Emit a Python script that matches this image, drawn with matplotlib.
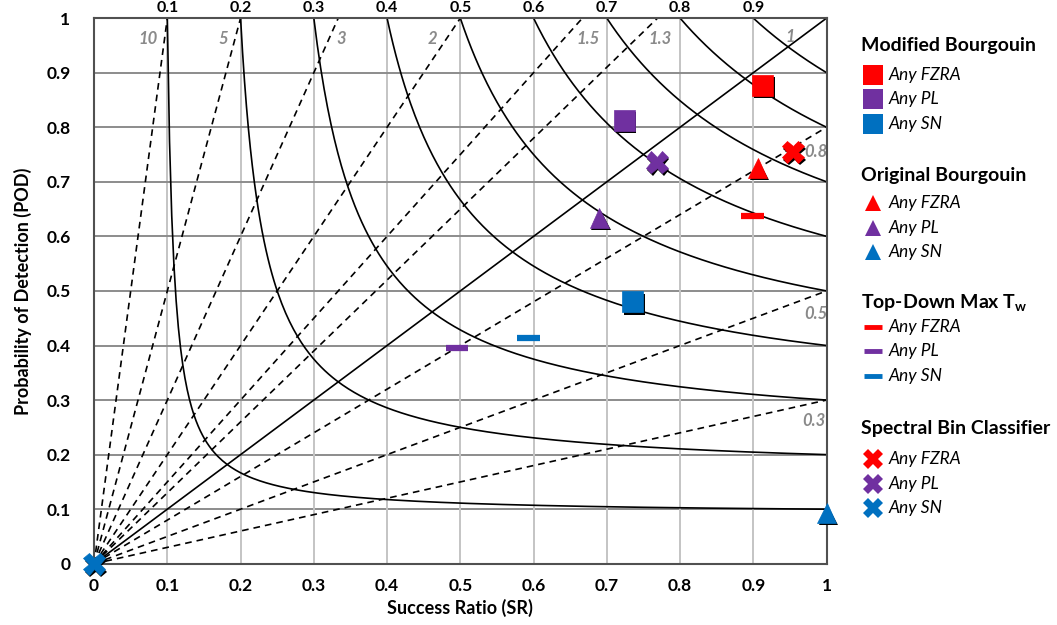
import numpy as np
import matplotlib
matplotlib.use("Agg")
import matplotlib.pyplot as plt
import matplotlib.patheffects as pe

plt.rcParams["font.family"] = ["Lato", "DejaVu Sans"]

# ── Data ──────────────────────────────────────────────────────────────────────
csi_levels = [0.1, 0.2, 0.3, 0.4, 0.5, 0.6, 0.7, 0.8, 0.9]
bias_levels = [10, 5, 3, 2, 1.5, 1.3, 1, 0.8, 0.5, 0.3]
bias_label_pos = {10: (0.074, 0.962), 5: (0.177, 0.962), 3: (0.338, 0.962),
                  2: (0.462, 0.962), 1.5: (0.674, 0.962), 1.3: (0.772, 0.962),
                  1: (0.95, 0.965), 0.8: (0.985, 0.755), 0.5: (0.985, 0.458),
                  0.3: (0.982, 0.262)}

types = ["Any FZRA", "Any PL", "Any SN"]
colors = ["#FF0000", "#7030A0", "#0070C0"]

# success ratio / POD per method, in the order of `types`
mod_sr = [0.913, 0.724, 0.735]
mod_pod = [0.877, 0.813, 0.480]
orig_sr = [0.906, 0.690, 1.000]
orig_pod = [0.725, 0.634, 0.093]
td_sr = [0.899, 0.495, 0.593]
td_pod = [0.637, 0.396, 0.414]
sbc_sr = [0.954, 0.768, 0.000]
sbc_pod = [0.755, 0.736, 0.000]

methods = [
    ("Modified Bourgouin", mod_sr, mod_pod, "s", 15),
    ("Original Bourgouin", orig_sr, orig_pod, "^", 14),
    ("Top-Down Max T$_\\mathregular{w}$", td_sr, td_pod, "_", 16),
    ("Spectral Bin Classifier", sbc_sr, sbc_pod, "X", 16),
]

# ── Figure ────────────────────────────────────────────────────────────────────
fig = plt.figure(figsize=(10.57, 6.25), dpi=100)
ax = fig.add_axes([0.089, 0.098, 0.693, 0.873])
ax.set_xlim(0, 1)
ax.set_ylim(0, 1)

ticks = np.round(np.arange(0, 1.01, 0.1), 1)
ax.set_xticks(ticks)
ax.set_yticks(ticks)
labs = ["0"] + [f"{t:.1f}" for t in ticks[1:-1]] + ["1"]
ax.set_xticklabels(labs, fontsize=12.5, fontweight="bold")
ax.set_yticklabels(labs, fontsize=12.5, fontweight="bold")
ax.tick_params(axis="x", length=0, pad=10)
ax.tick_params(axis="y", length=0, pad=17)
for t in ticks[1:-1]:
    ax.axvline(t, color="#c4c4c4", lw=1.4, zorder=0)
    ax.axhline(t, color="#8c8c8c", lw=1.4, zorder=0)
for s in ax.spines.values():
    s.set_color("#505050")
    s.set_linewidth(1.5)

ax.set_xlabel("Success Ratio (SR)", fontsize=13, fontweight="bold", labelpad=4)
ax.set_ylabel("Probability of Detection (POD)", fontsize=13, fontweight="bold", labelpad=10)

# CSI curves
for c in csi_levels:
    sr = np.linspace(c, 1, 300)
    pod = 1.0 / (1.0 / c + 1.0 - 1.0 / sr)
    ax.plot(sr, pod, color="black", lw=1.2, zorder=1)
    ax.text(c, 1.018, f"{c:.1f}", ha="center", va="center", fontsize=11.5,
            fontweight="bold", clip_on=False)

# bias lines
for b in bias_levels:
    sr_end = min(1.0, 1.0 / b)
    if b == 1:
        ax.plot([0, 1], [0, 1], color="black", lw=1.2, zorder=1)
    else:
        ax.plot([0, sr_end], [0, b * sr_end], color="black", lw=1.2,
                ls=(0, (4, 3)), zorder=1)
    bx, by = bias_label_pos[b]
    ax.text(bx, by, f"{b:g}", ha="center", va="center", fontsize=12,
            fontweight="bold", style="italic", color="#8a8a8a", zorder=2)

# markers with a dark drop shadow
shadow = [pe.SimplePatchShadow(offset=(1.2, -1.8), shadow_rgbFace="black", alpha=1.0),
          pe.Normal()]
for title, sr, pod, mk, ms in methods:
    for x, y, col in zip(sr, pod, colors):
        kw = dict(marker=mk, ms=ms, color=col, ls="none", clip_on=False, zorder=5)
        if mk == "_":
            kw.update(mew=4.5)
        else:
            kw.update(mec=col, mew=0.5)
        ax.plot([x], [y], path_effects=shadow, **kw)

# ── Legend (drawn manually as grouped blocks) ─────────────────────────────────
lx_m = 0.826
lx_t = 0.841
title_y = [0.928, 0.720, 0.515, 0.315]
first_dy = [0.048, 0.045, 0.038, 0.050]
row_dy = 0.039
for (title, sr, pod, mk, ms), ty, fd in zip(methods, title_y, first_dy):
    fig.text(0.815, ty, title, fontsize=14, fontweight="bold", va="center")
    for i, (lab, col) in enumerate(zip(types, colors)):
        yy = ty - fd - i * row_dy
        kw = dict(marker=mk, color=col, ls="none")
        if mk == "_":
            kw.update(ms=13, mew=3.5)
        elif mk == "X":
            kw.update(ms=14, mew=0)
        else:
            kw.update(ms=14 if mk == "s" else 12, mew=0)
        fig.add_artist(plt.Line2D([lx_m], [yy], transform=fig.transFigure, **kw))
        fig.text(lx_t, yy, lab, fontsize=12.5, style="italic", va="center")

fig.savefig("out.png", dpi=100)
